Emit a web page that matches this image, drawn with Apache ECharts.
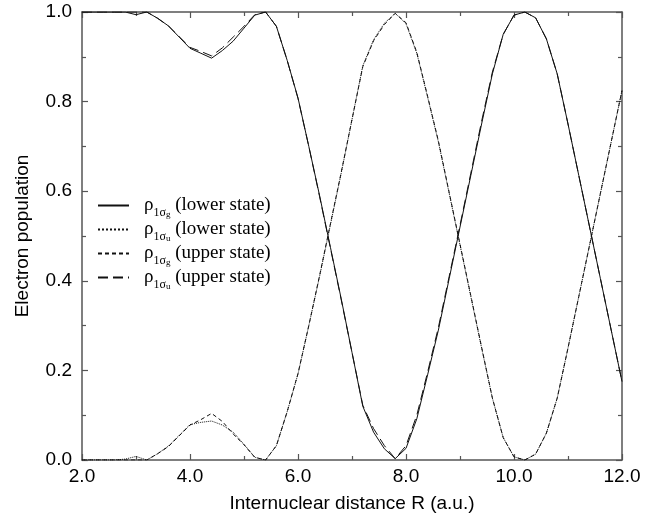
<!DOCTYPE html>
<html>
<head>
<meta charset="utf-8">
<script src="https://cdn.jsdelivr.net/npm/echarts@6/dist/echarts.min.js"></script>
<style>html,body{margin:0;padding:0;background:#fff}#c{width:665px;height:518px}</style>
</head>
<body>
<div id="c"></div>
<script>
// Internuclear distance R (a.u.)
var R = [2.0,2.2,2.4,2.6,2.8,3.0,3.2,3.4,3.6,3.8,4.0,4.2,4.4,4.6,4.8,5.0,5.2,5.4,5.6,5.8,
         6.0,6.2,6.4,6.6,6.8,7.0,7.2,7.4,7.6,7.8,8.0,8.2,8.4,8.6,8.8,9.0,9.2,9.4,9.6,9.8,
         10.0,10.2,10.4,10.6,10.8,11.0,11.2,11.4,11.6,11.8,12.0];
// rho_1sigma_g (lower state) - solid
var gLower = [1.000,1.000,1.000,1.000,1.000,0.994,1.000,0.986,0.969,0.944,0.919,0.908,0.897,0.914,0.935,0.964,0.993,1.000,0.968,0.892,
              0.808,0.700,0.590,0.475,0.360,0.240,0.120,0.062,0.025,0.003,0.026,0.092,0.190,0.290,0.405,0.520,0.635,0.750,0.862,0.950,
              0.993,1.000,0.987,0.940,0.862,0.750,0.635,0.520,0.405,0.290,0.175];
// rho_1sigma_u (lower state) - dotted
var uLower = [0.000,0.000,0.000,0.000,0.002,0.008,0.000,0.014,0.031,0.055,0.079,0.084,0.087,0.078,0.062,0.035,0.006,0.000,0.032,0.108,
              0.192,0.300,0.410,0.525,0.640,0.760,0.880,0.938,0.975,0.997,0.974,0.908,0.810,0.710,0.595,0.480,0.365,0.250,0.138,0.050,
              0.007,0.000,0.013,0.060,0.138,0.250,0.365,0.480,0.595,0.710,0.825];
// rho_1sigma_g (upper state) - short dashes
var gUpper = [0.000,0.000,0.000,0.000,0.000,0.000,0.000,0.014,0.030,0.054,0.078,0.090,0.104,0.086,0.058,0.034,0.006,0.000,0.032,0.108,
              0.193,0.300,0.412,0.527,0.642,0.760,0.878,0.936,0.972,0.997,0.976,0.910,0.812,0.712,0.597,0.482,0.367,0.252,0.138,0.050,
              0.007,0.000,0.013,0.060,0.138,0.250,0.365,0.480,0.595,0.710,0.825];
// rho_1sigma_u (upper state) - long dashes
var uUpper = [1.000,1.000,1.000,1.000,1.000,1.000,1.000,0.986,0.969,0.945,0.921,0.912,0.902,0.920,0.944,0.968,0.994,1.000,0.968,0.892,
              0.807,0.700,0.588,0.473,0.358,0.240,0.122,0.070,0.032,0.003,0.032,0.100,0.196,0.296,0.410,0.524,0.640,0.756,0.866,0.950,
              0.993,1.000,0.987,0.940,0.862,0.750,0.635,0.520,0.405,0.290,0.175];

var seriesNames = ['gLower','uLower','gUpper','uUpper'];
var legendSub = ['g','u','g','u'];
var legendState = ['lower state','lower state','upper state','upper state'];
var seriesValues = [gLower, uLower, gUpper, uUpper];
var dashTypes = ['solid','dotted',[4,3],[10,5]];
var xTicks = {min: 2, max: 12, interval: 2};
var yTicks = {min: 0, max: 1, interval: 0.2};

function pairs(ys){ return R.map(function(x,i){ return [x, ys[i]]; }); }

var axisColor = '#555';
var sans = 'Liberation Sans, Arial, Helvetica, sans-serif';
var fs = 19;
function mkX(pos, show){
  return {
    type:'value', position:pos, min:xTicks.min, max:xTicks.max, interval:xTicks.interval,
    axisLine:{show:true, onZero:false, lineStyle:{color:axisColor, width:1.5}},
    axisTick:{show:true, inside:true, length:6, lineStyle:{color:axisColor, width:1.2}},
    minorTick:{show:true, splitNumber:2, length:4, lineStyle:{color:axisColor, width:1.2}},
    splitLine:{show:false},
    axisLabel:{show:show, color:'#000', fontSize:fs, fontFamily:sans, margin:7,
      formatter:function(v){return v.toFixed(1);}},
    name: show ? 'Internuclear distance R (a.u.)' : '',
    nameLocation:'middle', nameGap:34,
    nameTextStyle:{color:'#000', fontSize:fs, fontFamily:sans}
  };
}
function mkY(pos, show){
  return {
    type:'value', position:pos, min:yTicks.min, max:yTicks.max, interval:yTicks.interval,
    axisLine:{show:true, onZero:false, lineStyle:{color:axisColor, width:1.5}},
    axisTick:{show:true, inside:true, length:6, lineStyle:{color:axisColor, width:1.2}},
    minorTick:{show:true, splitNumber:2, length:4, lineStyle:{color:axisColor, width:1.2}},
    splitLine:{show:false},
    axisLabel:{show:show, color:'#000', fontSize:fs, fontFamily:sans, margin:10,
      formatter:function(v){return v.toFixed(1);}},
    name: show ? 'Electron population' : '',
    nameLocation:'middle', nameGap:50, nameRotate:90,
    nameTextStyle:{color:'#000', fontSize:fs, fontFamily:sans}
  };
}

var serif = 'Liberation Serif, Times New Roman, serif';
var chart = echarts.init(document.getElementById('c'), null, {renderer:'canvas'});
chart.setOption({
  animation:false,
  backgroundColor:'#fff',
  grid:{left:82, right:43, top:12, bottom:58, containLabel:false},
  xAxis:[mkX('bottom', true), mkX('top', false)],
  yAxis:[mkY('left', true), mkY('right', false)],
  legend:{
    orient:'vertical', left:97, top:192, padding:0, itemWidth:31, itemHeight:12, itemGap:-3,
    itemStyle:{opacity:0, borderWidth:0},
    data: seriesNames,
    formatter:function(name){
      var i = seriesNames.indexOf(name);
      return '{r|ρ}{s|1σ}{ss|' + legendSub[i] + '}{t| (' + legendState[i] + ')}';
    },
    textStyle:{
      color:'#000', fontFamily:serif, fontSize:19, lineHeight:24,
      rich:{
        r:{fontFamily:serif, fontSize:19, lineHeight:24, padding:[0,0,0,10], color:'#000'},
        s:{fontFamily:serif, fontSize:12, lineHeight:24, padding:[14,0,0,0], color:'#000'},
        ss:{fontFamily:serif, fontSize:9, lineHeight:24, padding:[18,0,0,0], color:'#000'},
        t:{fontFamily:serif, fontSize:19, lineHeight:24, color:'#000'}
      }
    }
  },
  series: seriesNames.map(function(n, i){
    return {
      name:n, type:'line', xAxisIndex:0, yAxisIndex:0,
      data:pairs(seriesValues[i]), symbol:'none', showSymbol:false, smooth:false,
      lineStyle:{color:'#111', width:1, type:dashTypes[i]},
      itemStyle:{color:'#111'}
    };
  })
});
</script>
</body>
</html>
